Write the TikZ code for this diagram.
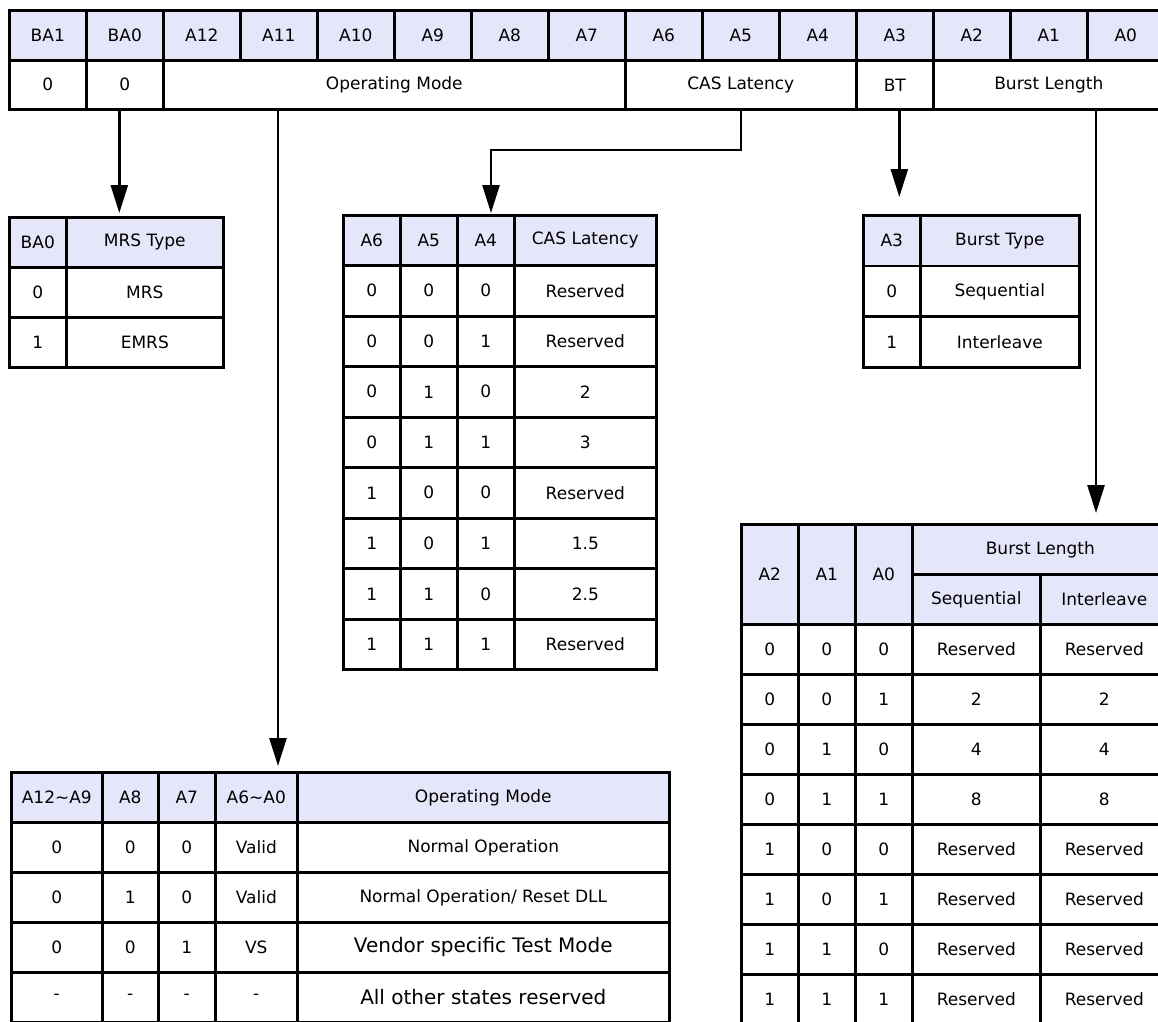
\documentclass[tikz,border=0pt]{standalone}
\usepackage{fontspec}
\setmainfont{DejaVu Sans}
\usetikzlibrary{arrows.meta, positioning}
\definecolor{hdrfill}{RGB}{230,230,250}

\begin{document}
\begin{tikzpicture}[x=1pt, y=-1pt, font=\fontsize{17pt}{20pt}\selectfont,
  >={Triangle[length=28pt, width=17pt]},
  cell/.style={draw, line width=2.6pt, inner sep=0pt, anchor=north west, minimum height=50pt},
  hdr/.style={cell, fill=hdrfill},
  arr/.style={->, line width=2.6pt},
  optxt/.style={},
  optbig/.style={font=\fontsize{20pt}{24pt}\selectfont}]
  \useasboundingbox (0,0) rectangle (1158,1021);

  % register
  \foreach \lbl [count=\i from 0] in {BA1,BA0,A12,A11,A10,A9,A8,A7,A6,A5,A4,A3,A2,A1,A0}
    \node[hdr, minimum width=77pt] (reg\i) at ({8+77*\i},9) {\lbl};
  \node[cell, minimum width=77pt, minimum height=49pt] (ba1v) at (8,59) {0};
  \node[cell, minimum width=77pt, minimum height=49pt] (ba0v) at (85,59) {0};
  \node[cell, minimum width=462pt, minimum height=49pt] (opv) at (162,59) {Operating Mode};
  \node[cell, minimum width=231pt, minimum height=49pt] (casv) at (624,59) {CAS Latency};
  \node[cell, minimum width=77pt, minimum height=49pt] (btv) at (855,59) {BT};
  \node[cell, minimum width=231pt, minimum height=49pt] (blv) at (932,59) {Burst Length};

  % MRS type
  \node[hdr, minimum width=57pt] (mrs-h1) at (8,216) {BA0};
  \node[hdr, minimum width=157pt] (mrs-h2) at (65,216) {MRS Type};
  \foreach \a/\t [count=\r] in {0/MRS, 1/EMRS} {
    \node[cell, minimum width=57pt] (mrs\r-a) at (8,{216+50*\r}) {\a};
    \node[cell, minimum width=157pt] (mrs\r-b) at (65,{216+50*\r}) {\t};
  }

  % CAS latency
  \node[hdr, minimum width=57pt] (cas-h1) at (342,214) {A6};
  \node[hdr, minimum width=57pt] (cas-h2) at (399,214) {A5};
  \node[hdr, minimum width=57pt] (cas-h3) at (456,214) {A4};
  \node[hdr, minimum width=142pt] (cas-h4) at (513,214) {CAS Latency};
  \foreach \a/\b/\c/\t [count=\r] in {0/0/0/Reserved, 0/0/1/Reserved, 0/1/0/2, 0/1/1/3,
      1/0/0/Reserved, 1/0/1/1.5, 1/1/0/2.5, 1/1/1/Reserved} {
    \node[cell, minimum width=57pt] (cas\r-a) at (342,{214+50.5*\r}) {\a};
    \node[cell, minimum width=57pt] (cas\r-b) at (399,{214+50.5*\r}) {\b};
    \node[cell, minimum width=57pt] (cas\r-c) at (456,{214+50.5*\r}) {\c};
    \node[cell, minimum width=142pt] (cas\r-d) at (513,{214+50.5*\r}) {\t};
  }

  % burst type
  \node[hdr, minimum width=57pt, minimum height=50.7pt] (bt-h1) at (862,214) {A3};
  \node[hdr, minimum width=159pt, minimum height=50.7pt] (bt-h2) at (919,214) {Burst Type};
  \foreach \a/\t [count=\r] in {0/Sequential, 1/Interleave} {
    \node[cell, minimum width=57pt, minimum height=50.7pt] (bt\r-a) at (862,{214+50.7*\r}) {\a};
    \node[cell, minimum width=159pt, minimum height=50.7pt] (bt\r-b) at (919,{214+50.7*\r}) {\t};
  }

  % burst length
  \node[hdr, minimum width=57pt, minimum height=100pt] (bl-h1) at (740,523) {A2};
  \node[hdr, minimum width=57pt, minimum height=100pt] (bl-h2) at (797,523) {A1};
  \node[hdr, minimum width=57pt, minimum height=100pt] (bl-h3) at (854,523) {A0};
  \node[hdr, minimum width=256pt] (bl-h4) at (911,523) {Burst Length};
  \node[hdr, minimum width=128pt] (bl-seq) at (911,573) {Sequential};
  \node[hdr, minimum width=128pt] (bl-int) at (1039,573) {Interleave};
  \foreach \a/\b/\c/\s/\t [count=\r from 0] in {0/0/0/Reserved/Reserved, 0/0/1/2/2, 0/1/0/4/4,
      0/1/1/8/8, 1/0/0/Reserved/Reserved, 1/0/1/Reserved/Reserved, 1/1/0/Reserved/Reserved,
      1/1/1/Reserved/Reserved} {
    \node[cell, minimum width=57pt] (bl\r-a) at (740,{623+50*\r}) {\a};
    \node[cell, minimum width=57pt] (bl\r-b) at (797,{623+50*\r}) {\b};
    \node[cell, minimum width=57pt] (bl\r-c) at (854,{623+50*\r}) {\c};
    \node[cell, minimum width=128pt] (bl\r-d) at (911,{623+50*\r}) {\s};
    \node[cell, minimum width=128pt] (bl\r-e) at (1039,{623+50*\r}) {\t};
  }

  % operating mode
  \node[hdr, minimum width=91pt] (op-h1) at (10,771) {A12\textasciitilde A9};
  \node[hdr, minimum width=56pt] (op-h2) at (101,771) {A8};
  \node[hdr, minimum width=57pt] (op-h3) at (157,771) {A7};
  \node[hdr, minimum width=82pt] (op-h4) at (214,771) {A6\textasciitilde A0};
  \node[hdr, minimum width=372pt] (op-h5) at (296,771) {Operating Mode};
  \foreach \a/\b/\c/\d/\m/\f [count=\r] in {0/0/0/Valid/Normal Operation/optxt,
      0/1/0/Valid/{Normal Operation/ Reset DLL}/optxt, 0/0/1/VS/Vendor specific Test Mode/optbig,
      -/-/-/-/All other states reserved/optbig} {
    \node[cell, minimum width=91pt] (op\r-a) at (10,{771+50*\r}) {\a};
    \node[cell, minimum width=56pt] (op\r-b) at (101,{771+50*\r}) {\b};
    \node[cell, minimum width=57pt] (op\r-c) at (157,{771+50*\r}) {\c};
    \node[cell, minimum width=82pt] (op\r-d) at (214,{771+50*\r}) {\d};
    \node[cell, \f, minimum width=372pt] (op\r-e) at (296,{771+50*\r}) {\m};
  }

  % connectors
  \coordinate (casturn) at (491,150);
  \draw[arr, shorten >=3pt] ([xshift=-5.5pt]ba0v.south) -- ([xshift=-5.5pt]ba0v.south |- mrs-h2.north);
  \draw[arr, shorten >=5pt] ([xshift=116pt]opv.south west) -- ([xshift=116pt]opv.south west |- op-h4.north);
  \draw[arr, shorten >=1pt] (casv.south) |- (casturn) -- (casturn |- cas-h3.north);
  \draw[arr, shorten >=17pt] ([xshift=4.5pt]btv.south) -- ([xshift=4.5pt]btv.south |- bt-h1.north);
  \draw[arr, shorten >=10pt] ([xshift=164pt]blv.south west) -- ([xshift=164pt]blv.south west |- bl-h4.north);
\end{tikzpicture}
\end{document}
